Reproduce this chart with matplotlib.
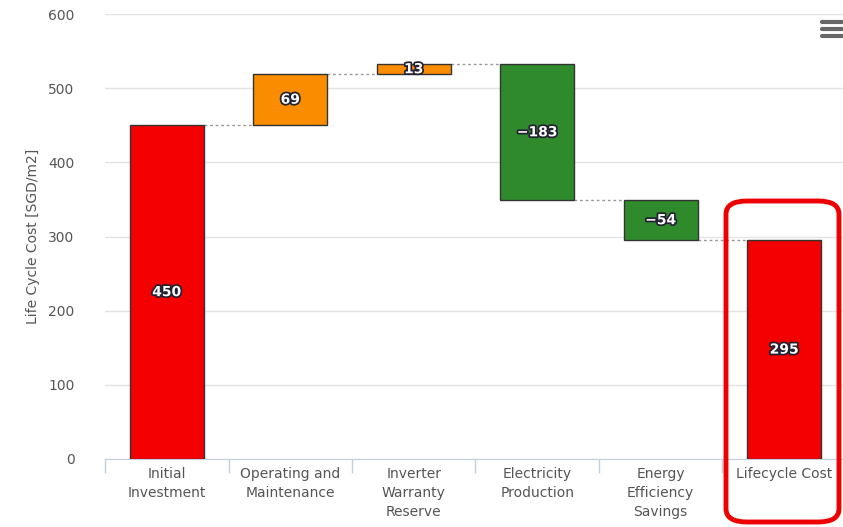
import matplotlib.pyplot as plt
import matplotlib.patheffects as pe
from matplotlib.patches import FancyBboxPatch
import numpy as np

categories = ["Initial\nInvestment", "Operating and\nMaintenance", "Inverter\nWarranty\nReserve",
              "Electricity\nProduction", "Energy\nEfficiency\nSavings", "Lifecycle Cost"]
values = [450, 69, 13, -183, -54, 295]
is_total = [False, False, False, False, False, True]
colors = ["#f40000", "#fa8c00", "#fa8c00", "#2f8a2b", "#2f8a2b", "#f40000"]

fig = plt.figure(figsize=(8.43, 5.27), dpi=100)
ax = fig.add_axes([105/843, 1-459/527, 741/843, 445/527])

x = np.arange(len(values))
bottoms, heights = [], []
run = 0
for v, t in zip(values, is_total):
    if t:
        bottoms.append(0); heights.append(run)
    else:
        bottoms.append(run if v >= 0 else run + v); heights.append(abs(v))
        run += v

w = 0.6
ax.bar(x, heights, bottom=bottoms, width=w, color=colors, edgecolor="#333333", linewidth=1, zorder=3)

# dotted connectors
run = 0
for i, (v, t) in enumerate(zip(values, is_total)):
    if i == len(values) - 1:
        break
    run = run + v if not t else run
    ax.plot([i + w/2, i + 1 - w/2], [run, run], ls=(0, (2, 2)), color="#999999", lw=1, zorder=2)

for i, v in enumerate(values):
    ax.text(x[i], bottoms[i] + heights[i]/2, str(v).replace("-", "\u2212"), ha="center", va="center",
            color="white", fontsize=10, fontweight="bold", zorder=5,
            path_effects=[pe.withStroke(linewidth=2.5, foreground="#222233")])

ax.set_ylim(0, 600)
ax.set_xlim(-0.5, len(values) - 0.5)
ax.set_yticks(range(0, 601, 100))
ax.yaxis.grid(True, color="#e3e3e3", lw=1, zorder=0)
ax.set_xticks(x)
ax.set_xticklabels(categories, color="#555555", fontsize=10, linespacing=1.45)
ax.set_xticks(np.arange(-0.5, len(values)), minor=True)
ax.tick_params(axis="x", which="major", length=0, pad=6)
ax.tick_params(axis="x", which="minor", length=10, color="#c0d0e0", width=1)
ax.tick_params(axis="y", length=0, labelcolor="#555555", labelsize=10, pad=22)
for s in ["top", "right", "left"]:
    ax.spines[s].set_visible(False)
ax.spines["bottom"].set_color("#c0d0e0")
ax.set_ylabel("Life Cycle Cost [SGD/m2]", color="#555555", fontsize=10, labelpad=6)

# red highlight box around the last category
box = FancyBboxPatch((726/843, 1-522/527), 113/843, 321/527, transform=fig.transFigure,
                     boxstyle="round,pad=0,rounding_size=0.025", fill=False,
                     edgecolor="#ee0000", linewidth=3.5, zorder=10)
fig.patches.append(box)

# menu icon
for yy in [22, 29, 36]:
    fig.add_artist(plt.Line2D([822/843, 842/843], [1-yy/527, 1-yy/527], color="#666666", lw=3,
                              solid_capstyle="round", transform=fig.transFigure))

fig.savefig("out.png", dpi=100)
